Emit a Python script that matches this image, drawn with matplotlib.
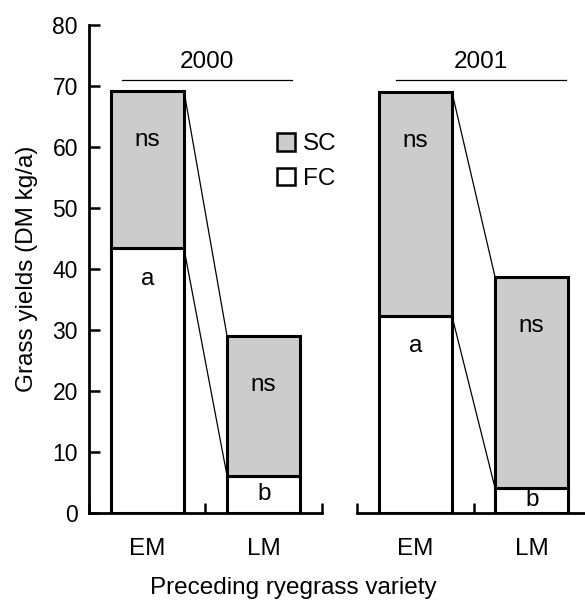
import matplotlib
matplotlib.use("Agg")
import matplotlib.pyplot as plt
from matplotlib.patches import Patch

plt.rcParams['font.family'] = ['Liberation Sans', 'DejaVu Sans']

# data
years = ['2000', '2001']
varieties = ['EM', 'LM']
fc = {'2000': [43.4, 6.1], '2001': [32.3, 4.1]}      # first cut
total = {'2000': [69.2, 29.0], '2001': [69.0, 38.7]}  # first + second cut
fc_letters = {'2000': ['a', 'b'], '2001': ['a', 'b']}
sc_letters = {'2000': ['ns', 'ns'], '2001': ['ns', 'ns']}

grey = '#cccccc'
FS = 17.5
W, H = 585, 601
fig = plt.figure(figsize=(W / 100, H / 100), dpi=100)

# two broken x-axis panels sharing the same y scale
y0, y1 = 513, 25
axes = [fig.add_axes([89 / W, (H - y0) / H, 233 / W, (y0 - y1) / H]),
        fig.add_axes([357 / W, (H - y0) / H, 233 / W, (y0 - y1) / H])]

bar_w = 0.63
for k, (ax, yr) in enumerate(zip(axes, years)):
    xs = [0.5, 1.5]
    sc = [t - f for t, f in zip(total[yr], fc[yr])]
    ax.bar(xs, fc[yr], bar_w, color='white', edgecolor='black', linewidth=2.2, zorder=3)
    ax.bar(xs, sc, bar_w, bottom=fc[yr], color=grey, edgecolor='black', linewidth=2.2, zorder=3)

    # connecting lines between EM and LM
    x_r = xs[0] + bar_w / 2
    x_l = xs[1] - bar_w / 2
    ax.plot([x_r, x_l], [total[yr][0], total[yr][1]], color='black', lw=0.9, zorder=2)
    ax.plot([x_r, x_l], [fc[yr][0], fc[yr][1]], color='black', lw=0.9, zorder=2)

    # letters
    for i, x in enumerate(xs):
        ax.text(x, total[yr][i] - 8, sc_letters[yr][i], ha='center', va='center', fontsize=FS, zorder=4)
        f = fc[yr][i]
        ly = f - 5 if f > 15 else f / 2
        ax.text(x, ly, fc_letters[yr][i], ha='center', va='center', fontsize=FS, zorder=4)

    # year header with line
    if k == 0:
        ax.plot([0.28, 1.74], [71, 71], color='black', lw=0.9, clip_on=False)
        ax.text(1.01, 74, yr, ha='center', va='center', fontsize=FS)
    else:
        ax.plot([0.335, 1.79], [71, 71], color='black', lw=0.9, clip_on=False)
        ax.text(1.06, 74, yr, ha='center', va='center', fontsize=FS)

    ax.set_xlim(0, 2)
    ax.set_ylim(0, 80)
    ax.set_xticks([0, 1, 2])
    ax.set_xticklabels([])
    ax.set_xticks(xs, minor=True)
    ax.set_xticklabels(varieties, minor=True, fontsize=FS)
    ax.tick_params(axis='x', which='major', direction='in', length=7, width=1.8)
    ax.tick_params(axis='x', which='minor', length=0, pad=18)
    for s in ['top', 'right']:
        ax.spines[s].set_visible(False)
    ax.spines['bottom'].set_linewidth(2.0)
    ax.spines['left'].set_linewidth(2.0)
    ax.patch.set_alpha(0)

axes[0].set_yticks(range(0, 81, 10))
axes[0].tick_params(axis='y', direction='in', length=8, width=1.8, labelsize=16.5, pad=8)
axes[0].set_ylabel('Grass yields (DM kg/a)', fontsize=FS, labelpad=10)
axes[1].spines['left'].set_visible(False)
axes[1].set_yticks([])

handles = [Patch(facecolor=grey, edgecolor='black', linewidth=1.8, label='SC'),
           Patch(facecolor='white', edgecolor='black', linewidth=1.8, label='FC')]
fig.legend(handles=handles, loc='upper left', bbox_to_anchor=(277 / W, 1 - 133 / H),
           frameon=False, fontsize=FS, handlelength=0.75, handleheight=0.75,
           handletextpad=0.3, labelspacing=0.5, borderpad=0, borderaxespad=0)

fig.text(293 / W, 1 - 588 / H, 'Preceding ryegrass variety', ha='center', va='center', fontsize=FS)

fig.savefig('out.png', dpi=100)
